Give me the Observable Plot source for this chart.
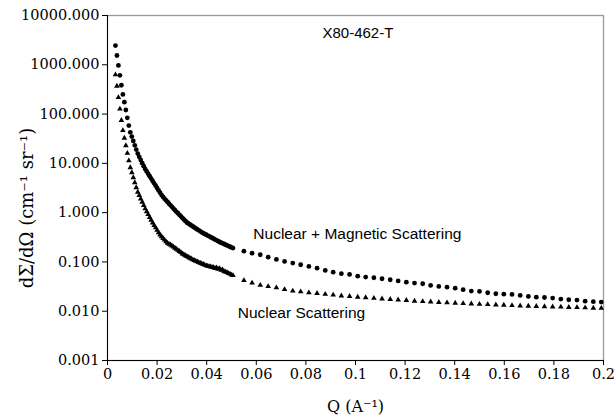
<!DOCTYPE html>
<html><head><meta charset="utf-8">
<script src="https://cdn.jsdelivr.net/npm/d3@7"></script>
<script src="https://cdn.jsdelivr.net/npm/@observablehq/plot@0.6"></script>
<style>html,body{margin:0;padding:0;background:#fff;}</style>
</head><body><div id="chart"></div>
<script>
// Q values (A^-1), dense low-Q region
const qDense = [0.0032,0.0038,0.0044,0.0050,0.0056,0.0062,0.0068,0.0074,0.0080,0.0086,
0.0092,0.0098,0.0104,0.0110,0.0116,0.0122,0.0128,0.0134,0.0140,0.0146,
0.0152,0.0158,0.0164,0.0170,0.0176,0.0182,0.0188,0.0194,0.0200,0.0206,
0.0212,0.0218,0.0224,0.0230,0.0236,0.0242,0.0248,0.0254,0.0260,0.0266,
0.0272,0.0278,0.0284,0.0290,0.0296,0.0302,0.0308,0.0314,0.0320,0.0326,
0.0332,0.0338,0.0344,0.0350,0.0356,0.0362,0.0368,0.0374,0.0380,0.0386,
0.0392,0.0398,0.0404,0.0410,0.0416,0.0422,0.0428,0.0434,0.0440,0.0446,
0.0452,0.0458,0.0464,0.0470,0.0476,0.0482,0.0488,0.0494,0.0500,0.0506];
// Nuclear + Magnetic scattering (circles), dense region
const magDense = [2455,1543,970,610,384,250,174,121,83.9,58.3,
42.7,34.9,28.5,23.2,19.0,15.8,13.6,11.7,10.1,8.75,
7.66,6.85,6.14,5.50,4.92,4.41,3.94,3.53,3.16,2.83,
2.54,2.27,2.08,1.92,1.78,1.65,1.52,1.41,1.31,1.21,
1.12,1.04,0.971,0.904,0.841,0.783,0.728,0.678,0.631,0.603,
0.575,0.550,0.525,0.501,0.479,0.457,0.437,0.417,0.398,0.384,
0.370,0.356,0.343,0.330,0.318,0.307,0.295,0.284,0.274,0.264,
0.254,0.246,0.238,0.231,0.223,0.217,0.210,0.203,0.197,0.191];
// Nuclear scattering (triangles), dense region
const nucDense = [631,370,217,127,74.8,46.6,32.7,22.9,16.1,11.3,
8.24,6.52,5.15,4.07,3.22,2.61,2.24,1.91,1.64,1.40,
1.20,1.05,0.920,0.805,0.705,0.621,0.554,0.494,0.441,0.393,
0.354,0.327,0.302,0.279,0.258,0.241,0.229,0.223,0.212,0.201,
0.191,0.182,0.173,0.164,0.156,0.146,0.141,0.135,0.130,0.125,
0.120,0.116,0.111,0.107,0.104,0.101,0.0977,0.0948,0.0920,0.0893,
0.0867,0.0840,0.0822,0.0809,0.0796,0.0783,0.0769,0.0740,0.0760,0.0715,
0.0735,0.0680,0.0690,0.0641,0.0626,0.0612,0.0585,0.0571,0.0545,0.0532];
// Q values, sparse high-Q region
const qSparse = [0.0550,0.0583,0.0616,0.0648,0.0681,0.0714,0.0747,0.0779,0.0812,0.0845,
0.0878,0.0910,0.0943,0.0976,0.1009,0.1041,0.1074,0.1107,0.1140,0.1172,
0.1205,0.1238,0.1271,0.1303,0.1336,0.1369,0.1402,0.1434,0.1467,0.1500,
0.1533,0.1566,0.1598,0.1631,0.1664,0.1697,0.1729,0.1762,0.1795,0.1828,
0.1860,0.1893,0.1926,0.1959,0.1991];
const magSparse = [0.1656,0.1507,0.1400,0.1250,0.1124,0.1023,0.0946,0.0877,0.0811,0.0748,
0.0673,0.0621,0.0577,0.0558,0.0515,0.0492,0.0478,0.0456,0.0435,0.0412,
0.0388,0.0372,0.0361,0.0334,0.0318,0.0308,0.0294,0.0273,0.0256,0.0252,
0.0237,0.0226,0.0222,0.0219,0.0209,0.0200,0.0193,0.0190,0.0185,0.0176,
0.0171,0.0168,0.0160,0.0156,0.0153];
const nucSparse = [0.0422,0.0375,0.0338,0.0318,0.0300,0.0277,0.0258,0.0249,0.0238,0.0230,
0.0221,0.0214,0.0206,0.0200,0.0194,0.0189,0.0184,0.0179,0.0174,0.0170,
0.0166,0.0161,0.0158,0.0155,0.0152,0.0149,0.0146,0.0144,0.0141,0.0139,
0.0137,0.0135,0.0133,0.0131,0.0129,0.0127,0.0126,0.0124,0.0123,0.0122,
0.0120,0.0119,0.0118,0.0116,0.0115];

const xTicks = [0,0.02,0.04,0.06,0.08,0.1,0.12,0.14,0.16,0.18,0.2];
const xTickLabels = ["0","0.02","0.04","0.06","0.08","0.1","0.12","0.14","0.16","0.18","0.2"];
const yTicks = [0.001,0.01,0.1,1,10,100,1000,10000];
const yTickLabels = ["0.001","0.010","0.100","1.000","10.000","100.000","1000.000","10000.000"];

const titleText = "X80-462-T";
const xLabel = "Q (A\u207B\u00B9)";
const yLabel = "d\u03A3/d\u03A9 (cm\u207B\u00B9 sr\u207B\u00B9)";
const annotText = ["Nuclear + Magnetic Scattering", "Nuclear Scattering"];
const annotQ = [0.0588, 0.0525];
const annotV = [0.296, 0.0073];

const qAll = qDense.concat(qSparse);
const magAll = magDense.concat(magSparse);
const nucAll = nucDense.concat(nucSparse);
const mag = qAll.map((q, i) => ({q, v: magAll[i]}));
const nuc = qAll.map((q, i) => ({q, v: nucAll[i]}));
const annots = annotText.map((t, i) => ({t, q: annotQ[i], v: annotV[i]}));

const sans = "'Liberation Sans', Arial, sans-serif";

const chart = Plot.plot({
  width: 614, height: 418,
  marginLeft: 107, marginRight: 11, marginTop: 15, marginBottom: 58,
  style: {fontFamily: "'DejaVu Serif', serif", fontSize: "14.5px", background: "#fff", color: "#000", overflow: "visible"},
  x: {domain: [0, 0.2]},
  y: {type: "log", domain: [0.001, 10000]},
  marks: [
    Plot.frame({stroke: "#9a9a9a", strokeWidth: 1.3}),
    Plot.ruleX([0], {stroke: "#000"}),
    Plot.ruleY([0.001], {stroke: "#000"}),
    Plot.axisX({ticks: xTicks, tickFormat: d => xTickLabels[xTicks.indexOf(d)], tickSize: 5, tickPadding: 3, label: null}),
    Plot.axisY({ticks: yTicks, tickFormat: d => yTickLabels[yTicks.indexOf(d)], tickSize: 5, tickPadding: 3, label: null}),
    Plot.dot(nuc, {x: "q", y: "v", symbol: "triangle", r: 2.1, fill: "#000", stroke: null}),
    Plot.dot(mag, {x: "q", y: "v", r: 2.4, fill: "#000", stroke: null}),
    Plot.text(annots, {x: "q", y: "v", text: "t", textAnchor: "start", lineAnchor: "bottom", fontFamily: sans, fontSize: 15.5, fill: "#000"}),
    Plot.text([titleText], {text: d => d, frameAnchor: "top-left", dx: 215, dy: 22, textAnchor: "start", lineAnchor: "bottom", fontFamily: sans, fontSize: 15, fill: "#000"}),
    Plot.text([xLabel], {text: d => d, frameAnchor: "bottom", dy: 51, lineAnchor: "bottom", fontSize: 16, fill: "#000"}),
    Plot.text([yLabel], {text: d => d, frameAnchor: "left", rotate: -90, dx: -80, dy: 20, textAnchor: "middle", fontSize: 18, fill: "#000"})
  ]
});
document.getElementById("chart").appendChild(chart);
</script>
</body></html>
